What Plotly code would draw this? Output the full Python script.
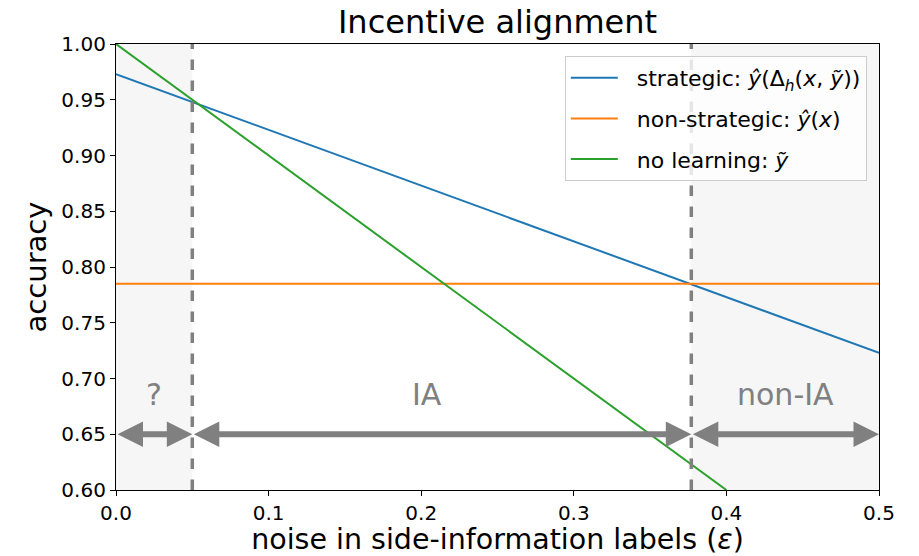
import numpy as np
import plotly.graph_objects as go

# noise levels and accuracies of each approach
eps = [0.0, 0.5]
strategic_acc = [0.973, 0.723]
nonstrategic_acc = [0.785, 0.785]
nolearn_eps = [0.0, 0.4]
nolearn_acc = [1.0, 0.6]

# region boundaries and labels
eps_low = 0.05
eps_high = 0.377
regions = [(0.0, eps_low), (eps_low, eps_high), (eps_high, 0.5)]
region_labels = ["?", "IA", "non-IA"]
label_x = [0.025, 0.204, 0.4385]
label_y = 0.686
arrow_y = 0.65

x_ticks = [0.0, 0.1, 0.2, 0.3, 0.4, 0.5]
y_ticks = [0.60, 0.65, 0.70, 0.75, 0.80, 0.85, 0.90, 0.95, 1.00]

GRAY = "#808080"
FONT = "DejaVu Sans"
GAP = "\u00a0\u00a0"

fig = go.Figure()

fig.add_trace(go.Scatter(
    x=eps, y=strategic_acc, mode="lines", legendgroup="a",
    line=dict(color="#1f77b4", width=2),
    name=GAP + "strategic: <i>ŷ</i>(Δ<sub><i>h</i></sub>(<i>x</i>, <i>ỹ</i>))"))
fig.add_trace(go.Scatter(
    x=eps, y=nonstrategic_acc, mode="lines", legendgroup="b",
    line=dict(color="#ff7f0e", width=2),
    name=GAP + "non-strategic: <i>ŷ</i>(<i>x</i>)"))
fig.add_trace(go.Scatter(
    x=nolearn_eps, y=nolearn_acc, mode="lines", legendgroup="c",
    line=dict(color="#2ca02c", width=2),
    name=GAP + "no learning: <i>ỹ</i>"))

shapes = [
    dict(type="rect", xref="x", yref="y", x0=0.0, x1=eps_low, y0=0.6, y1=1.0,
         fillcolor="#f6f6f6", line=dict(width=0), layer="below"),
    dict(type="rect", xref="x", yref="y", x0=eps_high, x1=0.5, y0=0.6, y1=1.0,
         fillcolor="#f6f6f6", line=dict(width=0), layer="below"),
]
for xv in (eps_low, eps_high):
    shapes.append(dict(type="line", xref="x", yref="y", x0=xv, x1=xv, y0=0.6, y1=1.0,
                       line=dict(color=GRAY, width=3.5, dash="dash"), layer="above"))

annotations = []
for (a, b) in regions:
    annotations.append(dict(
        x=b, y=arrow_y, ax=a, ay=arrow_y, xref="x", yref="y", axref="x", ayref="y",
        text="", showarrow=True, arrowhead=2, startarrowhead=2, arrowside="end+start",
        arrowsize=0.85, startarrowsize=0.85, arrowwidth=6, arrowcolor=GRAY,
        standoff=0, startstandoff=0))
for lab, lx in zip(region_labels, label_x):
    annotations.append(dict(x=lx, y=label_y, xref="x", yref="y", text=lab, showarrow=False,
                            font=dict(family=FONT, size=30, color=GRAY)))

fig.update_layout(
    width=919, height=556,
    margin=dict(l=116, r=40, t=44, b=66),
    paper_bgcolor="white", plot_bgcolor="white",
    font=dict(family=FONT, color="black"),
    title=dict(text="Incentive alignment", x=(116 + 879) / 2 / 919, xanchor="center",
               y=1 - 22 / 556, yanchor="middle", font=dict(size=32, family=FONT)),
    shapes=shapes, annotations=annotations,
    showlegend=True, hovermode=False,
    legend=dict(x=0.984, y=0.973, xanchor="right", yanchor="top",
                bgcolor="rgba(255,255,255,0.8)", bordercolor="#cccccc", borderwidth=1,
                font=dict(family=FONT, size=22), tracegroupgap=9, itemwidth=47),
)
fig.update_xaxes(range=[0, 0.5], tickvals=x_ticks, ticktext=[f"{v:.1f}" for v in x_ticks],
                 showgrid=False, zeroline=False, showline=True, linecolor="black",
                 linewidth=1.2, mirror=True, ticks="outside", ticklen=5, tickcolor="black",
                 tickfont=dict(size=20, family=FONT), automargin=False,
                 title=dict(text="noise in side-information labels (<i>ε</i>)",
                            font=dict(size=28.5, family=FONT), standoff=6))
fig.update_yaxes(range=[0.6, 1.0], tickvals=y_ticks, ticktext=[f"{v:.2f}" for v in y_ticks],
                 showgrid=False, zeroline=False, showline=True, linecolor="black",
                 linewidth=1.2, mirror=True, ticks="outside", ticklen=5, tickcolor="black",
                 tickfont=dict(size=20, family=FONT), automargin=False,
                 title=dict(text="accuracy", font=dict(size=29, family=FONT), standoff=6))

fig.write_html("out.html")
